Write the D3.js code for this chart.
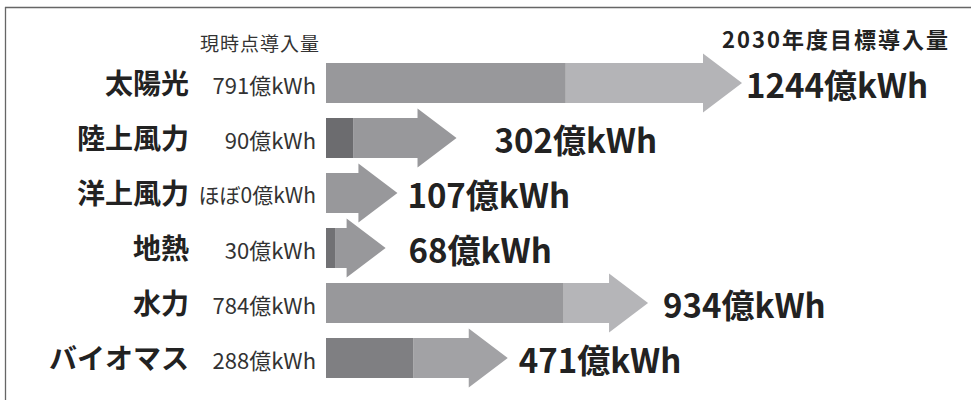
<!DOCTYPE html>
<html><head><meta charset="utf-8">
<script src="https://cdn.jsdelivr.net/npm/d3@7"></script>
<style>
html,body{margin:0;padding:0;background:#fff;}
svg{display:block;}
text{font-family:"Noto Sans CJK JP","Noto Sans",sans-serif;}
</style></head>
<body>
<svg id="chart" width="971" height="400"></svg>
<script>
// ---- data ----
const categories = ["太陽光", "陸上風力", "洋上風力", "地熱", "水力", "バイオマス"];
const currentValues = [791, 90, 0, 30, 784, 288];
const targetValues = [1244, 302, 107, 68, 934, 471];
const currentLabels = ["791億kWh", "90億kWh", "ほぼ0億kWh", "30億kWh", "784億kWh", "288億kWh"];
const targetLabels = ["1244億kWh", "302億kWh", "107億kWh", "68億kWh", "934億kWh", "471億kWh"];
const headerCurrent = "現時点導入量";
const headerTarget = "2030年度目標導入量";

// ---- styles / layout ----
const currentColors = ["#98989b", "#6c6c6f", "#98989b", "#717174", "#98989b", "#7f7f82"];
const addColors = ["#b4b4b7", "#98989b", "#98989b", "#98989b", "#b5b5b8", "#a2a2a5"];
const labelGap = [4, 38, 10, 23, 15, 11];

const svg = d3.select("#chart");
const x = d3.scaleLinear().domain([0, 1244]).range([326, 703]);
const y = d3.scaleBand().domain(categories).range([55.5, 385.5]).padding(0);
const barH = 40, headH = 59, headL = 39;

// frame
svg.append("line").attr("x1", 5).attr("x2", 971).attr("y1", 7.5).attr("y2", 7.5)
  .attr("stroke", "#666").attr("stroke-width", 1.3);
svg.append("line").attr("x1", 5.5).attr("x2", 5.5).attr("y1", 7).attr("y2", 400)
  .attr("stroke", "#666").attr("stroke-width", 1.3);

const rows = categories.map((c, i) => ({
  cat: c, cur: currentValues[i], tgt: targetValues[i],
  curLabel: currentLabels[i], tgtLabel: targetLabels[i], i
}));

const g = svg.selectAll("g.row").data(rows).join("g").attr("class", "row");
const cy = d => y(d.cat) + y.bandwidth() / 2;

// increment part + arrow head
g.append("path")
  .attr("d", d => {
    const c = cy(d);
    const x0 = x(d.cur), x1 = x(d.tgt);
    return `M${x0},${c - barH/2} L${x1},${c - barH/2} L${x1},${c - headH/2} L${x1 + headL},${c} ` +
           `L${x1},${c + headH/2} L${x1},${c + barH/2} L${x0},${c + barH/2} Z`;
  })
  .attr("fill", d => addColors[d.i]);

// current part
g.filter(d => d.cur > 0).append("rect")
  .attr("x", x(0))
  .attr("y", d => cy(d) - barH/2)
  .attr("width", d => x(d.cur) - x(0))
  .attr("height", barH)
  .attr("fill", d => currentColors[d.i]);

// category labels
g.append("text")
  .attr("x", 189).attr("y", d => cy(d) - 1)
  .attr("text-anchor", "end").attr("dominant-baseline", "central")
  .attr("font-size", 28).attr("font-weight", 700).attr("fill", "#222")
  .text(d => d.cat);

// current labels
g.append("text")
  .attr("x", 316).attr("y", d => cy(d) + 1)
  .attr("text-anchor", "end").attr("dominant-baseline", "central")
  .attr("font-size", d => d.cur === 0 ? 21 : 22).attr("fill", "#333")
  .text(d => d.curLabel);

// target labels
g.append("text")
  .attr("x", d => x(d.tgt) + headL + labelGap[d.i]).attr("y", d => cy(d) + 1)
  .attr("dominant-baseline", "central")
  .attr("font-size", 33).attr("font-weight", 700).attr("fill", "#222")
  .text(d => d.tgtLabel);

// headers
svg.append("text").attr("x", 320).attr("y", 42)
  .attr("text-anchor", "end").attr("dominant-baseline", "central")
  .attr("font-size", 19).attr("letter-spacing", 1).attr("fill", "#333")
  .text(headerCurrent);
svg.append("text").attr("x", 950).attr("y", 38)
  .attr("text-anchor", "end").attr("dominant-baseline", "central")
  .attr("font-size", 22).attr("font-weight", 700).attr("letter-spacing", 2).attr("fill", "#222")
  .text(headerTarget);
</script>
</body></html>
